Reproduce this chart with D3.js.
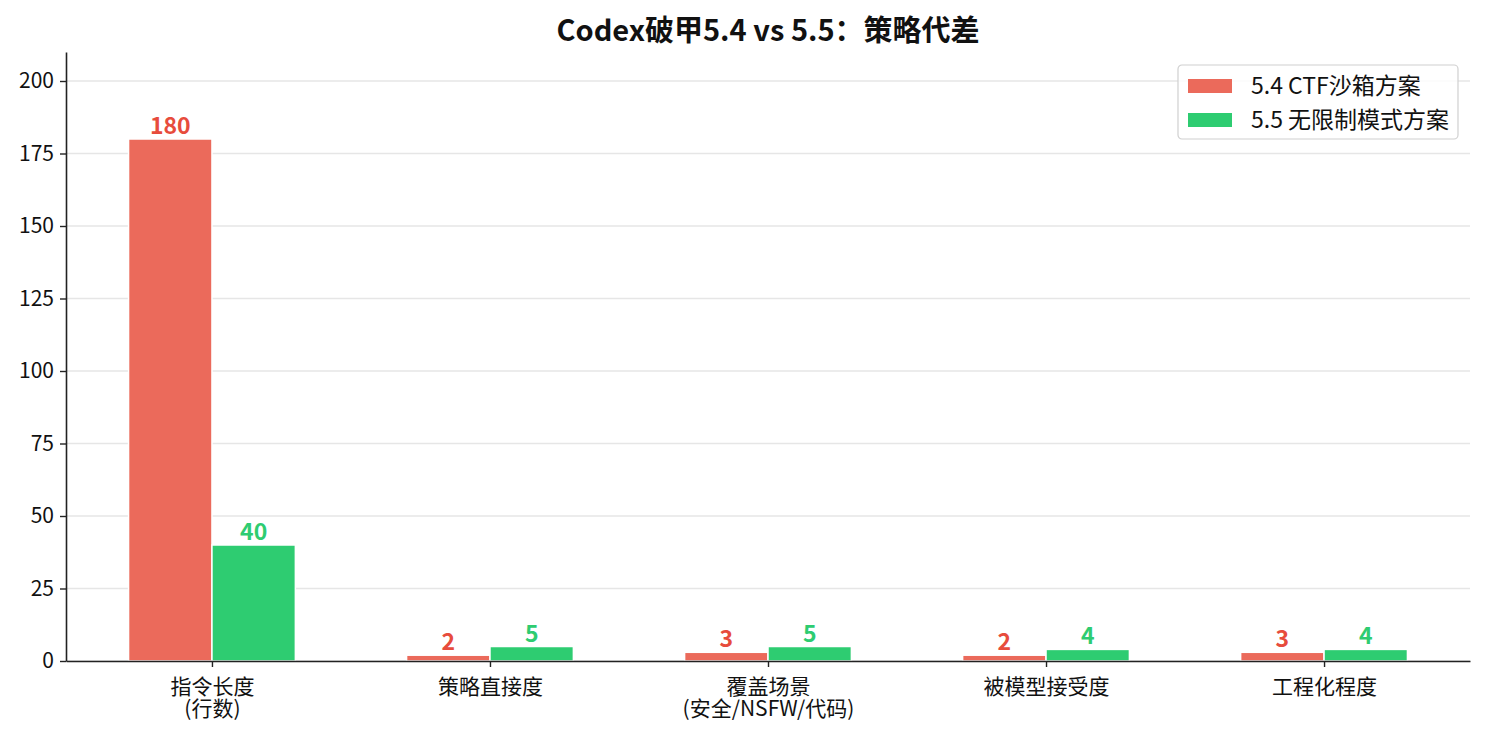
<!DOCTYPE html>
<html lang="zh">
<head>
<meta charset="utf-8">
<title>Codex破甲5.4 vs 5.5</title>
<script src="https://d3js.org/d3.v7.min.js"></script>
<style>
  body { margin: 0; background: #fff; }
  text { font-family: "Noto Sans CJK SC", "Noto Sans", sans-serif; }
</style>
</head>
<body>
<div id="chart"></div>
<script>
// data
const categories = ["指令长度\n(行数)", "策略直接度", "覆盖场景\n(安全/NSFW/代码)", "被模型接受度", "工程化程度"];
const seriesNames = ["5.4 CTF沙箱方案", "5.5 无限制模式方案"];
const values54 = [180, 2, 3, 2, 3];
const values55 = [40, 5, 5, 4, 4];
const yTicks = [0, 25, 50, 75, 100, 125, 150, 175, 200];

const W = 1485, H = 734;
const margin = {top: 52, right: 15, bottom: 73, left: 66};
const width = W - margin.left - margin.right,
      height = H - margin.top - margin.bottom;

const barFill = ["#eb6a5b", "#2ecc71"];
const labelFill = ["#e74c3c", "#2ecc71"];

const svg = d3.select("#chart").append("svg")
    .attr("width", W).attr("height", H);

// title
svg.append("text")
    .attr("x", margin.left + width / 2)
    .attr("y", 41)
    .attr("text-anchor", "middle")
    .style("font-size", "29px")
    .style("font-weight", "bold")
    .attr("fill", "#111")
    .text("Codex破甲5.4 vs 5.5：策略代差");

const g = svg.append("g").attr("transform", `translate(${margin.left},${margin.top})`);

const x = d3.scaleLinear().domain([-0.525, categories.length - 1 + 0.525]).range([0, width]);
const y = d3.scaleLinear().domain([0, 210]).range([height, 0]);
const bw = 0.3;

// grid
g.append("g").selectAll("line").data(yTicks).join("line")
    .attr("x1", 0).attr("x2", width)
    .attr("y1", d => y(d)).attr("y2", d => y(d))
    .attr("stroke", "#e6e6e6").attr("stroke-width", 1.5);

// bars
const series = [values54, values55];
series.forEach((vals, s) => {
  const off = s === 0 ? -bw / 2 : bw / 2;
  g.append("g").selectAll("rect").data(vals).join("rect")
      .attr("x", (d, i) => x(i + off - bw / 2))
      .attr("y", d => y(d))
      .attr("width", x(bw) - x(0))
      .attr("height", d => height - y(d))
      .attr("fill", barFill[s])
      .attr("stroke", "#fff").attr("stroke-width", 1.5);
  g.append("g").selectAll("text").data(vals).join("text")
      .attr("x", (d, i) => x(i + off))
      .attr("y", d => y(d) - 5)
      .attr("text-anchor", "middle")
      .style("font-size", "23px").style("font-weight", "bold")
      .attr("fill", labelFill[s])
      .text(d => d);
});

// y axis
const yAxis = g.append("g")
    .call(d3.axisLeft(y).tickValues(yTicks).tickSize(6).tickSizeOuter(0).tickPadding(6));
yAxis.select(".domain").attr("stroke", "#222").attr("stroke-width", 1.6);
yAxis.selectAll(".tick line").attr("stroke", "#222").attr("stroke-width", 1.4);
yAxis.selectAll(".tick text").style("font-size", "21px").attr("fill", "#111");

// x axis
const xAxis = g.append("g").attr("transform", `translate(0,${height})`)
    .call(d3.axisBottom(x).tickValues(d3.range(categories.length)).tickSize(6).tickSizeOuter(0).tickFormat(""));
xAxis.select(".domain").attr("stroke", "#222").attr("stroke-width", 1.6);
xAxis.selectAll(".tick line").attr("stroke", "#222").attr("stroke-width", 1.4);
xAxis.selectAll(".tick").each(function(d) {
  const lines = categories[d].split("\n");
  const t = d3.select(this).append("text")
      .attr("text-anchor", "middle").attr("fill", "#111")
      .style("font-size", "21px");
  lines.forEach((ln, k) => {
    t.append("tspan").attr("x", 0).attr("y", 33 + k * 22).text(ln);
  });
});

// legend
const lg = svg.append("g").attr("transform", "translate(1178,65)");
lg.append("rect").attr("width", 280).attr("height", 74).attr("rx", 4)
    .attr("fill", "#fff").attr("fill-opacity", 0.85)
    .attr("stroke", "#d0d0d0").attr("stroke-width", 1.2);
seriesNames.forEach((name, s) => {
  lg.append("rect").attr("x", 10).attr("y", 14 + s * 34).attr("width", 44).attr("height", 14)
      .attr("fill", barFill[s]);
  lg.append("text").attr("x", 73).attr("y", 29 + s * 34)
      .style("font-size", "23px").attr("fill", "#111").text(name);
});
</script>
</body>
</html>
